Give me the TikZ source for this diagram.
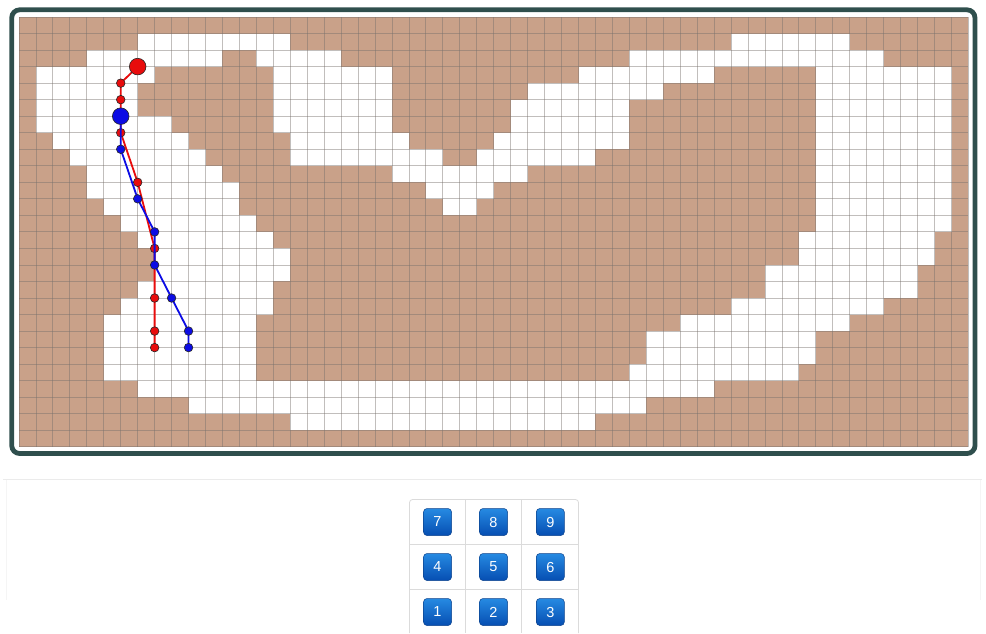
\documentclass[tikz,border=0pt]{standalone}
\usepackage{fontspec}
\setmainfont{Liberation Sans}
\definecolor{wall}{RGB}{201,161,137}
\definecolor{linecol}{RGB}{118,112,108}
\definecolor{framecol}{RGB}{47,79,77}
\definecolor{pathred}{RGB}{232,12,12}
\definecolor{pathblue}{RGB}{12,12,228}
\definecolor{keytop}{RGB}{38,138,226}
\definecolor{keybot}{RGB}{6,78,178}
\definecolor{keyedge}{RGB}{12,66,140}
\begin{document}
\begin{tikzpicture}[x=1pt,y=-1pt,
    gridline/.style={draw=linecol,line width=.9pt,opacity=.45},
    redline/.style={draw=pathred,line width=1.8pt,line join=round},
    blueline/.style={draw=pathblue,line width=1.8pt,line join=round},
    reddot/.style={fill=pathred,draw=black!85,line width=.6pt},
    bluedot/.style={fill=pathblue,draw=black!85,line width=.6pt},
    cellline/.style={draw=black!14,line width=.8pt},
    keybtn/.style={draw=keyedge,line width=.5pt,rounded corners=3.5pt,top color=keytop,bottom color=keybot,
        text=white,minimum width=28pt,minimum height=27pt,inner sep=0pt,font=\fontsize{14.5}{14.5}\selectfont}]
    \useasboundingbox (0,0) rectangle (986,633);
    \draw[black!8,line width=.8pt] (3,479.5) -- (982,479.5);
    \draw[black!4,line width=.8pt] (6,480) -- (6,600) (980,480) -- (980,600);
    \begin{scope}[shift={(19pt,-17pt)},x=16.955pt,y=-16.53pt]
        \fill[wall] (0,0) rectangle (56,26);
        \foreach \r/\a/\b in {1/7/15,1/42/48,
            2/4/11,2/14/18,2/36/50,
            3/1/7,3/15/21,3/33/40,3/47/54,
            4/1/6,4/15/21,4/30/37,4/47/54,
            5/1/6,5/15/21,5/29/35,5/47/54,
            6/1/8,6/15/21,6/29/35,6/47/54,
            7/2/9,7/16/22,7/28/35,7/47/54,
            8/3/10,8/16/24,8/27/33,8/47/54,
            9/4/11,9/22/29,9/47/54,
            10/4/12,10/24/27,10/47/54,
            11/5/12,11/25/26,11/47/54,
            12/6/13,12/47/54,
            13/7/14,13/46/53,
            14/8/15,14/46/53,
            15/8/15,15/44/52,
            16/7/14,16/44/52,
            17/6/14,17/42/50,
            18/5/13,18/39/48,
            19/5/13,19/37/46,
            20/5/13,20/37/46,
            21/5/13,21/36/45,
            22/7/40,
            23/10/36,
            24/16/33}
            \fill[white] (\a,\r) rectangle ({\b+1},{\r+1});
        \foreach \i in {0,...,56} \draw[gridline] (\i,0) -- (\i,26);
        \foreach \j in {0,...,26} \draw[gridline] (0,\j) -- (56,\j);
        \foreach \i/\cx/\cy in {1/7/3,2/6/4,3/6/5,4/6/6,5/6/7,6/7/10,7/8/14,8/8/17,9/8/19,10/8/20}
            \coordinate (red\i) at (\cx,\cy);
        \foreach \i/\cx/\cy in {1/6/6,2/6/7,3/6/8,4/7/11,5/8/13,6/8/15,7/9/17,8/10/19,9/10/20}
            \coordinate (blue\i) at (\cx,\cy);
        \draw[redline] (red1) \foreach \i in {2,...,10}{ -- (red\i)};
        \foreach \i in {2,3,5,6,7,8,9,10} \filldraw[reddot] (red\i) circle (4.3pt);
        \filldraw[reddot] (red1) circle (8.3pt);
        \draw[blueline] (blue1) \foreach \i in {2,...,9}{ -- (blue\i)};
        \foreach \i in {3,...,9} \filldraw[bluedot] (blue\i) circle (4.3pt);
        \filldraw[bluedot] (blue1) circle (8.3pt);
    \end{scope}
    \draw[framecol,line width=4.8pt,rounded corners=8pt] (11.7,9.8) rectangle (975,453.5);
    \draw[cellline,rounded corners=3pt] (409.5,633) -- (409.5,499.5) -- (578.5,499.5) -- (578.5,633);
    \draw[cellline] (465.7,499.5) -- (465.7,633) (521.7,499.5) -- (521.7,633)
        (409.5,544) -- (578.5,544) (409.5,589) -- (578.5,589);
    \node[keybtn] (k7) at (437.5,522) {7};
    \node[keybtn] (k8) at (493.5,522) {8};
    \node[keybtn] (k9) at (550.3,522) {9};
    \node[keybtn] (k4) at (437.5,567) {4};
    \node[keybtn] (k5) at (493.5,567) {5};
    \node[keybtn] (k6) at (550.3,567) {6};
    \node[keybtn] (k1) at (437.5,612) {1};
    \node[keybtn] (k2) at (493.5,612) {2};
    \node[keybtn] (k3) at (550.3,612) {3};
\end{tikzpicture}
\end{document}
